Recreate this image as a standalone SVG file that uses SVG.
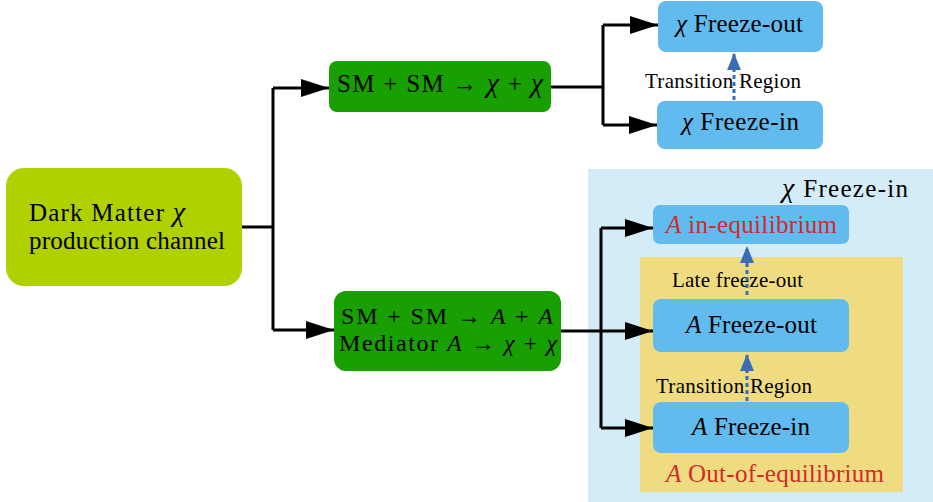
<svg xmlns="http://www.w3.org/2000/svg" width="933" height="502" viewBox="0 0 933 502" font-family="Liberation Serif, DejaVu Serif, serif">
<style>
text{font-family:"Liberation Serif","DejaVu Serif",serif;fill:#000}
.bx{font-size:25px}
.bs{font-size:24px}
.lb{font-size:21px}
.it{font-style:italic}
.red{fill:#d12a2a}
.conn{fill:none;stroke:#000;stroke-width:3}
.dash{fill:none;stroke:#3a6db3;stroke-width:3;stroke-dasharray:4 3}
.blue{fill:#62bbee}
.green{fill:#18a000}
</style>
<defs>
<marker id="ah" markerUnits="userSpaceOnUse" markerWidth="28" markerHeight="18" refX="28" refY="9" orient="auto"><path d="M0,0 L28,9 L0,18 z" fill="#000"/></marker>
<marker id="bh" markerUnits="userSpaceOnUse" markerWidth="17" markerHeight="14" refX="17" refY="7" orient="auto"><path d="M0,0 L17,7 L0,14 z" fill="#3a6db3"/></marker>
</defs>
<g id="region-chi-freezein">
<rect x="588" y="169" width="345" height="333" fill="#d4ebf8"/>
<text class="bx" x="782" y="197" textLength="126" lengthAdjust="spacing"><tspan class="it" font-size="28">χ</tspan>  Freeze-in</text>
</g>
<g id="region-out-of-eq">
<rect x="640" y="257" width="263" height="235" fill="#f0dc80"/>
<text class="bx red" x="666" y="482" textLength="218" lengthAdjust="spacing"><tspan class="it">A</tspan> Out-of-equilibrium</text>
</g>
<g id="connectors">
<path class="conn" d="M242,227 H273"/>
<path class="conn" d="M273,88 V330"/>
<path class="conn" d="M273,88 H329" marker-end="url(#ah)"/>
<path class="conn" d="M273,330 H334" marker-end="url(#ah)"/>
<path class="conn" d="M551,87 H603"/>
<path class="conn" d="M603,25 V125"/>
<path class="conn" d="M603,25 H658" marker-end="url(#ah)"/>
<path class="conn" d="M603,125 H657" marker-end="url(#ah)"/>
<path class="conn" d="M561,331 H653" marker-end="url(#ah)"/>
<path class="conn" d="M601,228 V428"/>
<path class="conn" d="M601,228 H653" marker-end="url(#ah)"/>
<path class="conn" d="M601,428 H653" marker-end="url(#ah)"/>
</g>
<g id="dm">
<rect x="6" y="168" width="236" height="118" rx="18" fill="#b0d000"/>
<text class="bx" x="29" y="221" textLength="156" lengthAdjust="spacing">Dark Matter  <tspan class="it" font-size="28">χ</tspan></text>
<text class="bx" x="29" y="249" textLength="196" lengthAdjust="spacing">production channel</text>
</g>
<g id="sm-chi">
<rect x="329" y="61" width="222" height="51" rx="8" class="green"/>
<text class="bx" x="337" y="92" textLength="206" lengthAdjust="spacing">SM + SM → <tspan class="it" font-size="28">χ</tspan> + <tspan class="it" font-size="28">χ</tspan></text>
</g>
<g id="sm-a">
<rect x="334" y="291" width="227" height="80" rx="12" class="green"/>
<text class="bs" x="341" y="324" textLength="212" lengthAdjust="spacing">SM + SM → <tspan class="it">A</tspan> + <tspan class="it">A</tspan></text>
<text class="bs" x="339" y="351" textLength="218" lengthAdjust="spacing">Mediator <tspan class="it">A</tspan> → <tspan class="it">χ</tspan> + <tspan class="it">χ</tspan></text>
</g>
<g id="chi-fo">
<rect x="658" y="1" width="165" height="51" rx="8" class="blue"/>
<text class="bx" x="676" y="32" textLength="127" lengthAdjust="spacing"><tspan class="it">χ</tspan> Freeze-out</text>
</g>
<g id="chi-fi">
<rect x="657" y="101" width="166" height="48" rx="8" class="blue"/>
<text class="bx" x="682" y="130" textLength="117" lengthAdjust="spacing"><tspan class="it">χ</tspan> Freeze-in</text>
</g>
<g id="a-eq">
<rect x="653" y="205" width="196" height="39" rx="7" class="blue"/>
<text class="bx red" x="666" y="233" textLength="171" lengthAdjust="spacing"><tspan class="it">A</tspan> in-equilibrium</text>
</g>
<g id="a-fo">
<rect x="653" y="299" width="196" height="53" rx="8" class="blue"/>
<text class="bx" x="686" y="333" textLength="131" lengthAdjust="spacing"><tspan class="it">A</tspan> Freeze-out</text>
</g>
<g id="a-fi">
<rect x="653" y="402" width="196" height="51" rx="8" class="blue"/>
<text class="bx" x="692" y="435" textLength="118" lengthAdjust="spacing"><tspan class="it">A</tspan> Freeze-in</text>
</g>
<g id="labels">
<text class="lb" x="645" y="88" textLength="156" lengthAdjust="spacing">Transition Region</text>
<text class="lb" x="672" y="287" textLength="131" lengthAdjust="spacing">Late freeze-out</text>
<text class="lb" x="656" y="393" textLength="156" lengthAdjust="spacing">Transition Region</text>
</g>
<g id="transitions">
<path class="dash" d="M734,100 V53" marker-end="url(#bh)"/>
<path class="dash" d="M747,295 V246" marker-end="url(#bh)"/>
<path class="dash" d="M747,401 V354" marker-end="url(#bh)"/>
</g>
</svg>
